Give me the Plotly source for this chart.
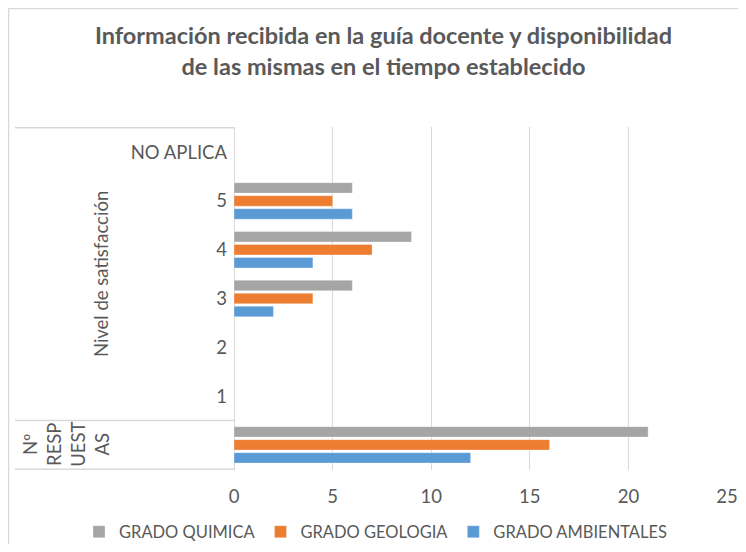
import plotly.graph_objects as go

# Data
categories = ["NR", "1", "2", "3", "4", "5", "NO APLICA"]
tick_labels = ["", "1", "2", "3", "4", "5", "NO APLICA"]
quimica = [21, None, None, 6, 9, 6, None]
geologia = [16, None, None, 4, 7, 5, None]
ambientales = [12, None, None, 2, 4, 6, None]
series_names = ["GRADO AMBIENTALES", "GRADO GEOLOGIA", "GRADO QUIMICA"]
series_values = [ambientales, geologia, quimica]
series_colors = ["#5b9bd5", "#ed7d31", "#a5a5a5"]
group_labels = ["Nivel de satisfacción", "Nº<br>RESP<br>UEST<br>AS"]

FONT = "Lato"
TXT = "#595959"
LINE = "#d9d9d9"
W, H = 730, 536
L, R, T, B = 226, 11, 119, 74
PW, PH = W - L - R, H - T - B


def px_x(x):
    return (x - L) / PW


def px_y(y):
    return (H - B - y) / PH


fig = go.Figure()
for name, vals, col in zip(series_names, series_values, series_colors):
    fig.add_trace(go.Bar(
        y=categories, x=vals, name=name, orientation="h",
        marker=dict(color=col, line=dict(color="rgba(255,255,255,0.6)", width=0.5)),
    ))

fig.update_layout(
    width=W, height=H,
    margin=dict(l=L, r=R, t=T, b=B, autoexpand=False),
    paper_bgcolor="white", plot_bgcolor="white",
    barmode="group", bargap=0.2, bargroupgap=0.2,
    font=dict(family=FONT, color=TXT, size=18),
    title=dict(
        text="<b>Información recibida en la guía docente y disponibilidad<br>de las mismas en el tiempo establecido</b>",
        x=375.5 / W, xref="container", xanchor="center",
        y=1 - 36 / H, yref="container", yanchor="top",
        font=dict(family=FONT, size=23.5, color=TXT),
    ),
    xaxis=dict(range=[0, 25], dtick=5, showgrid=True, gridcolor=LINE, gridwidth=1,
               zeroline=True, zerolinecolor=LINE, zerolinewidth=1, showline=False,
               ticks="", ticklabelstandoff=13, ticklabeloverflow="allow",
               tickfont=dict(size=18.5, color=TXT), fixedrange=True),
    yaxis=dict(type="category", categoryorder="array", categoryarray=categories,
               tickvals=categories, ticktext=tick_labels, showgrid=False,
               showline=False, ticks="", ticklabelstandoff=6,
               tickfont=dict(size=18.5, color=TXT)),
    legend=dict(orientation="h", traceorder="reversed", xref="paper", x=px_x(71),
                xanchor="left", yref="paper", y=px_y(524), yanchor="middle",
                font=dict(size=16.5, color=TXT)),
    showlegend=True,
)

# group labels of the multi-level category axis
fig.add_annotation(text=group_labels[0], xref="paper", yref="y", x=px_x(93), y=3.5,
                   xanchor="center", yanchor="middle",
                   textangle=-90, showarrow=False, font=dict(size=18.5, color=TXT))
fig.add_annotation(text=group_labels[1], xref="paper", yref="y", x=px_x(58), y=0,
                   xanchor="center", yanchor="middle",
                   textangle=-90, showarrow=False, font=dict(size=18.5, color=TXT))

# divider lines of category label area
for yv in [-0.5, 0.5, 6.5]:
    fig.add_shape(type="line", xref="paper", yref="y", x0=px_x(7), x1=0, y0=yv, y1=yv,
                  line=dict(color=LINE, width=1.5))
# chart border
fig.add_shape(type="line", xref="paper", yref="paper", x0=px_x(0.5), x1=px_x(0.5),
              y0=px_y(H + 5), y1=px_y(0.5), line=dict(color=LINE, width=1.5))
fig.add_shape(type="line", xref="paper", yref="paper", x0=px_x(0.5), x1=px_x(W + 5),
              y0=px_y(0.5), y1=px_y(0.5), line=dict(color=LINE, width=1.5))

fig.write_html("out.html")
